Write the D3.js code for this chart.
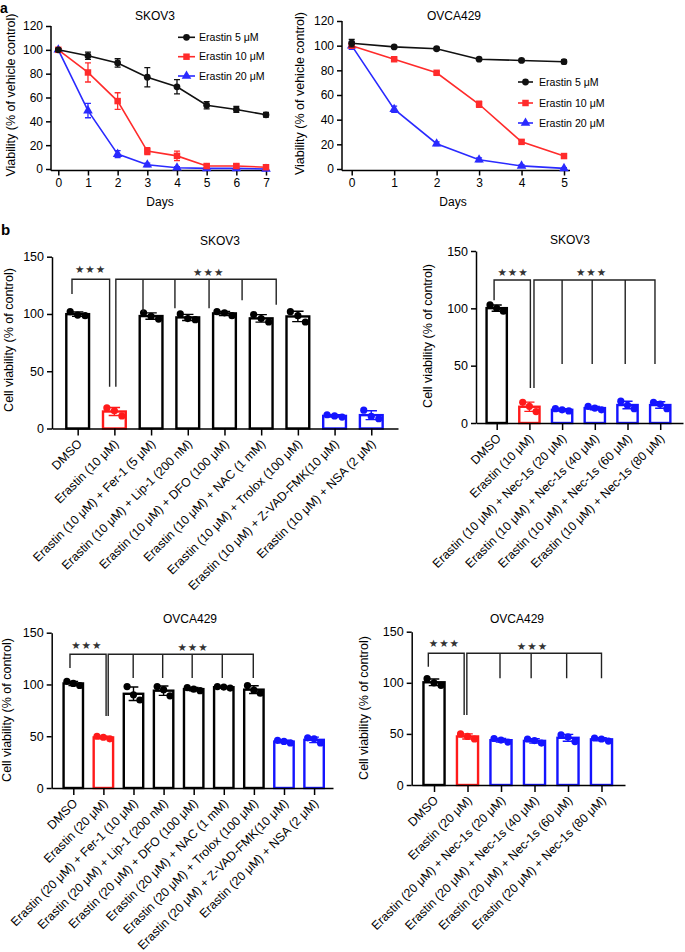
<!DOCTYPE html>
<html><head><meta charset="utf-8">
<script src="https://cdn.jsdelivr.net/npm/d3@7"></script>
<style>
body{margin:0;background:#fff;}
svg{display:block;}
</style></head><body>
<svg id="fig" width="685" height="952"></svg>
<script>
// ================= DATA =================
// Panel a: time course (viability, % of vehicle control)
const daysSKOV3 = [0,1,2,3,4,5,6,7];
const skov3_e5  = [100,95,89,77,69,53.5,50,45.5];
const skov3_e5_err  = [1,3,3.5,8,6,3,2.5,2];
const skov3_e10 = [100,81,57,15,11,2.5,2.5,1.5];
const skov3_e10_err = [1,8,7,3,4,1.5,1.5,1.5];
const skov3_e20 = [100,49,12.5,3.5,1,0.5,0.5,0];
const skov3_e20_err = [1,6,3,1.5,1,0.5,0.5,0.5];

const daysOVCA = [0,1,2,3,4,5];
const ovca_e5  = [102,99,97.5,89,88,87];
const ovca_e5_err  = [3,1,1,1,1,1.5];
const ovca_e10 = [100,89,78,52.5,22,10.5];
const ovca_e10_err = [2,1,1,2.5,1.5,1.5];
const ovca_e20 = [100,48.5,20.5,7.5,2.5,0.5];
const ovca_e20_err = [3,2.5,1.5,1.5,1,0.5];

const lineTicks = [0,20,40,60,80,100,120];
const legendNames = ["Erastin 5 μM","Erastin 10 μM","Erastin 20 μM"];

// Panel b: cell viability (% of control), replicate values
const catsSKOV3Ferro = ["DMSO","Erastin (10 μM)","Erastin (10 μM) + Fer-1 (5 μM)","Erastin (10 μM) + Lip-1 (200 nM)","Erastin (10 μM) + DFO (100 μM)","Erastin (10 μM) + NAC (1 mM)","Erastin (10 μM) + Trolox (100 μM)","Erastin (10 μM) + Z-VAD-FMK(10 μM)","Erastin (10 μM) + NSA (2 μM)"];
const groupsSKOV3Ferro = ["vehicle","erastin","ferro","ferro","ferro","ferro","ferro","other","other"];
const valsSKOV3Ferro = [[102,99,98.5],[18,15.5,11],[101,98,95.5],[100,96,95],[102,101,98.5],[99.5,96,93],[102,98.5,93],[12,11,10],[16,10.5,8.5]];

const catsSKOV3Nec = ["DMSO","Erastin (10 μM)","Erastin (10 μM) + Nec-1s (20 μM)","Erastin (10 μM) + Nec-1s (40 μM)","Erastin (10 μM) + Nec-1s (60 μM)","Erastin (10 μM) + Nec-1s (80 μM)"];
const groupsSKOV3Nec = ["vehicle","erastin","other","other","other","other"];
const valsSKOV3Nec = [[103,100,97.5],[18,14.5,10],[12.5,11.5,10.5],[14.5,13,11.5],[19,15.5,12.5],[18,16.5,12.5]];

const catsOVCAFerro = ["DMSO","Erastin (20 μM)","Erastin (20 μM) + Fer-1 (10 μM)","Erastin (20 μM) + Lip-1 (200 nM)","Erastin (20 μM) + DFO (100 μM)","Erastin (20 μM) + NAC (1 mM)","Erastin (20 μM) + Trolox (100 μM)","Erastin (20 μM) + Z-VAD-FMK(10 μM)","Erastin (20 μM) + NSA (2 μM)"];
const groupsOVCAFerro = ["vehicle","erastin","ferro","ferro","ferro","ferro","ferro","other","other"];
const valsOVCAFerro = [[103,101,99],[50,49,47.5],[98,90,85],[98,95,89],[97,95.5,94],[98,97.5,96.5],[99,94.5,91.5],[46,45,43.5],[48.5,47.5,43.5]];

const catsOVCANec = ["DMSO","Erastin (20 μM)","Erastin (20 μM) + Nec-1s (20 μM)","Erastin (20 μM) + Nec-1s (40 μM)","Erastin (20 μM) + Nec-1s (60 μM)","Erastin (20 μM) + Nec-1s (80 μM)"];
const groupsOVCANec = ["vehicle","erastin","other","other","other","other"];
const valsOVCANec = [[104,100,97.5],[50,47.5,45],[45.5,44,42],[45,43.5,41],[49,47,42.5],[46,45,43]];

const barTicks = [0,50,100,150];
const sigLabel = "★★★";

// ================= STYLE / LAYOUT =================
const FONT = '"Liberation Sans", Arial, Helvetica, sans-serif';
const groupColor = {vehicle:"#000", erastin:"#ff1a1a", ferro:"#000", other:"#1414ff"};
const lineColors = ["#111","#ff2b2b","#2a2aff"];
const lineSymbols = [d3.symbolCircle, d3.symbolSquare, d3.symbolTriangle];
const lineSymbolSizes = [36, 42, 40];

const svg = d3.select("#fig").attr("font-family", FONT);

function styleAxis(g, fs){
  g.attr("font-family", FONT).attr("font-size", fs);
  g.selectAll("path.domain").attr("stroke","#000").attr("stroke-width",1.5);
  g.selectAll(".tick line").attr("stroke","#000").attr("stroke-width",1.5);
  g.selectAll(".tick text").attr("fill","#000");
}

function yLabel(text, x, y, fs){
  svg.append("text").attr("transform",`translate(${x},${y}) rotate(-90)`)
    .attr("text-anchor","middle").attr("font-size",fs).attr("fill","#000").text(text);
}

// ================= PANEL a: line charts =================
function drawLinePanel(cfg){
  const g = svg.append("g");
  const x = d3.scaleLinear().domain([0, d3.max(cfg.days)]).range(cfg.xRange);
  const y = d3.scaleLinear().domain([0,120]).range(cfg.yRange);

  const ya = g.append("g").attr("transform",`translate(${cfg.axisX},0)`)
    .call(d3.axisLeft(y).tickValues(lineTicks).tickSize(5).tickPadding(3).tickSizeOuter(0));
  ya.select(".domain").attr("d",`M0,${y(0)+1.5}V${y(120)}`);
  styleAxis(ya, 12);

  const xa = g.append("g").attr("transform",`translate(0,${y(0)+1.5})`)
    .call(d3.axisBottom(x).tickValues(cfg.days).tickSize(5).tickPadding(3).tickFormat(d3.format("d")));
  xa.select(".domain").attr("d",`M${cfg.axisX},0H${cfg.axisEnd}`);
  styleAxis(xa, 12);

  cfg.series.slice().reverse().forEach(s=>{
    const pts = cfg.days.map((d,i)=>({d, v:s.values[i], e:s.err[i]}));
    g.append("path").datum(pts).attr("fill","none").attr("stroke",s.color).attr("stroke-width",1.6)
      .attr("d", d3.line().x(p=>x(p.d)).y(p=>y(p.v)));
    const eb = g.append("g").attr("stroke",s.color).attr("stroke-width",1.3).attr("fill","none");
    eb.selectAll("path").data(pts).join("path")
      .attr("d", p=>{
        const cx=x(p.d), t=y(p.v+p.e), b=y(Math.max(0,p.v-p.e));
        return `M${cx},${t}V${b}M${cx-3},${t}H${cx+3}M${cx-3},${b}H${cx+3}`;
      });
    g.append("g").selectAll("path").data(pts).join("path")
      .attr("transform", p=>`translate(${x(p.d)},${y(p.v)})`)
      .attr("d", d3.symbol().type(s.symbol).size(s.size)).attr("fill", s.color);
  });

  // legend
  const lg = g.append("g");
  cfg.series.forEach((s,i)=>{
    const yy = cfg.legend.rows[i];
    lg.append("line").attr("x1",cfg.legend.x0).attr("x2",cfg.legend.x1).attr("y1",yy).attr("y2",yy)
      .attr("stroke",s.color).attr("stroke-width",1.6);
    lg.append("path").attr("transform",`translate(${(cfg.legend.x0+cfg.legend.x1)/2},${yy})`)
      .attr("d", d3.symbol().type(s.symbol).size(s.size)).attr("fill",s.color);
    lg.append("text").attr("x",cfg.legend.tx).attr("y",yy).attr("dy","0.35em")
      .attr("font-size",10.6).attr("fill","#000").text(s.name);
  });

  svg.append("text").attr("x",cfg.title[0]).attr("y",cfg.title[1]).attr("text-anchor","middle")
    .attr("font-size",12).text(cfg.titleText);
  svg.append("text").attr("x",cfg.daysLabel[0]).attr("y",cfg.daysLabel[1]).attr("text-anchor","middle")
    .attr("font-size",12).text("Days");
  yLabel("Viability (% of vehicle control)", cfg.yLab[0], cfg.yLab[1], 12.5);
}

function mkSeries(vals, errs){
  return vals.map((v,i)=>({name:legendNames[i], values:v, err:errs[i], color:lineColors[i], symbol:lineSymbols[i], size:lineSymbolSizes[i]}));
}

drawLinePanel({
  days: daysSKOV3, xRange:[58.3,266], yRange:[169,26], axisX:51, axisEnd:267,
  series: mkSeries([skov3_e5,skov3_e10,skov3_e20],[skov3_e5_err,skov3_e10_err,skov3_e20_err]),
  legend:{x0:178, x1:195, tx:199, rows:[37.3,56.7,76]},
  title:[155,20], titleText:"SKOV3", daysLabel:[160,205.5], yLab:[15,95]
});
drawLinePanel({
  days: daysOVCA, xRange:[351.7,564], yRange:[169,21], axisX:342, axisEnd:570,
  series: mkSeries([ovca_e5,ovca_e10,ovca_e20],[ovca_e5_err,ovca_e10_err,ovca_e20_err]),
  legend:{x0:518, x1:533, tx:539, rows:[82,103,123]},
  title:[454,19.5], titleText:"OVCA429", daysLabel:[453,205.5], yLab:[304,93.5]
});

// ================= PANEL b: bar charts =================
function drawBarPanel(cfg){
  const g = svg.append("g");
  const x = d3.scalePoint().domain(cfg.cats).range([cfg.axisX, cfg.axisEnd]).padding(cfg.pad).align(cfg.align);
  const y = d3.scaleLinear().domain([0,150]).range([cfg.y0, cfg.y150]);
  const step = x.step(), bw = step*cfg.barFrac;
  const fx = i => x(cfg.cats[0]) + i*step;

  const rows = cfg.cats.map((c,i)=>{
    const v = cfg.vals[i];
    return {c, vals:v, mean:d3.mean(v), sd:d3.deviation(v), color:groupColor[cfg.groups[i]]};
  });

  // bars
  g.append("g").selectAll("rect").data(rows).join("rect")
    .attr("x", d=>x(d.c)-bw/2).attr("y", d=>y(d.mean))
    .attr("width", bw).attr("height", d=>y(0)-y(d.mean))
    .attr("fill","#fff").attr("stroke", d=>d.color).attr("stroke-width",2.4);
  // error bars
  g.append("g").selectAll("path").data(rows).join("path")
    .attr("fill","none").attr("stroke", d=>d.color).attr("stroke-width",1.4)
    .attr("d", d=>{
      const cx=x(d.c), t=y(d.mean+d.sd), b=y(d.mean-d.sd), cw=bw*0.25;
      return `M${cx},${t}V${b}M${cx-cw},${t}H${cx+cw}M${cx-cw},${b}H${cx+cw}`;
    });
  // dots
  const dots = rows.flatMap(d=>d.vals.map((v,j)=>({c:d.c, v, j, color:d.color})));
  g.append("g").selectAll("circle").data(dots).join("circle")
    .attr("cx", d=>x(d.c) + (d.j-1)*bw*0.33).attr("cy", d=>y(d.v)).attr("r",3.6)
    .attr("fill", d=>d.color);

  // axes
  const xa = g.append("g").attr("transform",`translate(0,${y(0)})`)
    .call(d3.axisBottom(x).tickSize(7).tickSizeOuter(0).tickFormat(""));
  styleAxis(xa, 12);
  const ya = g.append("g").attr("transform",`translate(${cfg.axisX},0)`)
    .call(d3.axisLeft(y).tickValues(barTicks).tickSize(5).tickPadding(3).tickSizeOuter(0));
  styleAxis(ya, 12.5);

  // category labels
  g.append("g").selectAll("text").data(cfg.cats).join("text")
    .attr("transform", c=>`translate(${x(c)+2},${y(0)+13}) rotate(-45)`)
    .attr("text-anchor","end").attr("dy","0.35em").attr("font-size",12.3).attr("fill","#000")
    .text(c=>c);

  // significance brackets
  const bg = g.append("g").attr("stroke","#222").attr("stroke-width",1.4).attr("fill","none");
  cfg.brackets.forEach(b=>{
    const L=b.legs, first=L[0], last=L[L.length-1];
    let d = `M${fx(first[0])},${y(first[1])}V${y(b.top)}H${fx(last[0])}V${y(last[1])}`;
    L.slice(1,-1).forEach(l=>{ d += `M${fx(l[0])},${y(b.top)}V${y(l[1])}`; });
    bg.append("path").attr("d", d);
  });
  cfg.stars.forEach(s=>{
    g.append("text").attr("x", fx(s[0])).attr("y", y(s[1])).attr("dy","0.33em")
      .attr("text-anchor","middle").attr("font-family",'"DejaVu Sans", sans-serif')
      .attr("font-size",10.5).attr("letter-spacing",1)
      .attr("fill","#333").text(sigLabel);
  });

  svg.append("text").attr("x",cfg.title[0]).attr("y",cfg.title[1]).attr("text-anchor","middle")
    .attr("font-size",12).text(cfg.titleText);
  yLabel("Cell viability (% of control)", cfg.yLab[0], cfg.yLab[1], 12.5);
}

drawBarPanel({
  cats:catsSKOV3Ferro, groups:groupsSKOV3Ferro, vals:valsSKOV3Ferro,
  axisX:52, axisEnd:398, pad:0.714, align:0.49, y0:428.5, y150:256.7, barFrac:0.62,
  brackets:[{legs:[[-0.155,117.5],[0.87,36.5]], top:130.3},
            {legs:[[1.04,36.5],[1.78,102],[2.65,105],[3.58,105],[4.48,112],[5.41,108]], top:130.3}],
  stars:[[0.35,138.4],[3.57,135.8]],
  title:[220,245], titleText:"SKOV3", yLab:[12.5,340]
});
drawBarPanel({
  cats:catsSKOV3Nec, groups:groupsSKOV3Nec, vals:valsSKOV3Nec,
  axisX:476, axisEnd:683, pad:0.665, align:0.476, y0:423, y150:251, barFrac:0.62,
  brackets:[{legs:[[-0.08,107],[1.03,30.5]], top:124.7},
            {legs:[[1.14,30.5],[2.0,51.4],[2.92,51.4],[3.93,51.4],[4.84,51.4]], top:124.7}],
  stars:[[0.5,131.2],[2.9,131.2]],
  title:[570,243.5], titleText:"SKOV3", yLab:[432,336]
});
drawBarPanel({
  cats:catsOVCAFerro, groups:groupsOVCAFerro, vals:valsOVCAFerro,
  axisX:51.7, axisEnd:333, pad:0.673, align:0.533, y0:788, y150:632.7, barFrac:0.645,
  brackets:[{legs:[[-0.11,116],[1.09,69.6]], top:129.2},
            {legs:[[1.16,69.6],[1.99,106.3],[2.97,106.3],[3.95,106.3],[4.95,106.3],[5.98,106.3]], top:129.2}],
  stars:[[0.45,137.7],[3.98,135.3]],
  title:[190,622.5], titleText:"OVCA429", yLab:[11,710]
});
drawBarPanel({
  cats:catsOVCANec, groups:groupsOVCANec, vals:valsOVCANec,
  axisX:411.7, axisEnd:625, pad:0.684, align:0.487, y0:785, y150:631.7, barFrac:0.63,
  brackets:[{legs:[[-0.17,115.8],[0.9,68.5]], top:128.9},
            {legs:[[0.98,68.5],[1.97,104.4],[2.9,104.4],[3.96,104.4],[5.0,104.4]], top:128.9}],
  stars:[[0.31,138.3],[2.94,135.5]],
  title:[517,622.5], titleText:"OVCA429", yLab:[368,708]
});

// panel letters
svg.append("text").attr("x",0).attr("y",13).attr("font-size",14).attr("font-weight","bold").text("a");
svg.append("text").attr("x",1).attr("y",235).attr("font-size",15).attr("font-weight","bold").text("b");
</script>
</body></html>
